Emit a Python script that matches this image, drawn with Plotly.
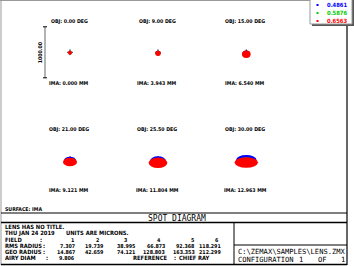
import plotly.graph_objects as go

W, H = 354, 266

# ---------------- data ----------------
obj_angles = [0.00, 9.00, 15.00, 21.00, 25.50, 30.00]          # deg
ima_heights = [0.000, 3.943, 6.540, 9.121, 11.804, 12.963]     # mm
field_numbers = [1, 2, 3, 4, 5, 6]
rms_radius = [7.307, 19.739, 38.995, 66.873, 92.368, 118.291]  # microns
geo_radius = [14.867, 42.659, 74.121, 128.803, 163.353, 212.299]
airy_diam = 9.806
scale_bar_um = 1000.0
wavelengths = [0.4861, 0.5876, 0.6563]
wave_colors = ["#0000ff", "#00cc00", "#ff0000"]

# visible spot footprint per wavelength (microns, relative to chief ray)
spot_semi_x = {
    0.4861: [30, 45, 70, 118, 157, 200],
    0.5876: [33, 48, 76, 125, 165, 205],
    0.6563: [39, 55, 85, 137, 183, 229],
}
spot_semi_y = {
    0.4861: [30, 40, 60, 78, 98, 98],
    0.5876: [33, 45, 62, 75, 92, 90],
    0.6563: [39, 52, 72, 85, 102, 102],
}
spot_center_dy = {
    0.4861: [-5, -10, -25, -33, -45, -20],
    0.5876: [-10, -18, -36, -55, -70, -62],
    0.6563: [-10, -20, -39, -59, -75, -69],
}
chief_ray_x = [0, 0, 0, 0, 0, 0]
chief_ray_y = [0, 0, 0, 0, 0, 0]

# ---------------- layout helpers ----------------
def px(x):
    return x / W

def py(y):
    return 1 - y / H

UM_PER_PX = 1000.0 / 51.0
col_x = [70, 158, 246.3]
row_y = [52.3, 159.0]
obj_label_y = [22, 129]
ima_label_y = [83, 190]
HALF = 30

FAM = "DejaVu Sans Condensed, DejaVu Sans, Liberation Sans, sans-serif"
SMALL = dict(family=FAM, size=5.8, color="black", weight="bold")
NUM = dict(family=FAM, size=5.3, color="black", weight="bold")
LABEL = dict(family=FAM, size=5.2, color="black", weight="bold")
BIG = dict(family="DejaVu Sans Mono, Liberation Mono, monospace", size=8, color="black")
PATHF = dict(family="DejaVu Sans Mono, Liberation Mono, monospace", size=7.1, color="black")

fig = go.Figure()
shapes = []
annotations = []

half_um = HALF * UM_PER_PX
for i in range(6):
    c, r = i % 3, i // 3
    cx, cy = col_x[c], row_y[r]
    n = "" if i == 0 else str(i + 1)
    fig.layout["xaxis" + n] = dict(domain=[px(cx - HALF), px(cx + HALF)], range=[-half_um, half_um],
                                   visible=False, fixedrange=True, anchor="y" + n)
    fig.layout["yaxis" + n] = dict(domain=[py(cy + HALF), py(cy - HALF)], range=[-half_um, half_um],
                                   visible=False, fixedrange=True, anchor="x" + n)
    for w in wavelengths:
        col = wave_colors[wavelengths.index(w)]
        sx, sy, dy = spot_semi_x[w][i], spot_semi_y[w][i], spot_center_dy[w][i]
        shapes.append(dict(type="circle", xref="x" + n, yref="y" + n,
                           x0=-sx, x1=sx, y0=dy - sy, y1=dy + sy,
                           fillcolor=col, line=dict(width=0), layer="above"))
    fig.add_trace(go.Scatter(x=[chief_ray_x[i]], y=[chief_ray_y[i]], mode="markers",
                             xaxis="x" + n, yaxis="y" + n, showlegend=False, hoverinfo="skip",
                             marker=dict(symbol="cross-thin", size=4, line=dict(width=1, color="black"))))
    annotations.append(dict(text=f"OBJ: {obj_angles[i]:.2f} DEG", x=px(cx - 1), y=py(obj_label_y[r]),
                            xref="paper", yref="paper", showarrow=False, xanchor="center", yanchor="middle", font=LABEL))
    annotations.append(dict(text=f"IMA: {ima_heights[i]:.3f} MM", x=px(cx - 1), y=py(ima_label_y[r]),
                            xref="paper", yref="paper", showarrow=False, xanchor="center", yanchor="middle", font=LABEL))

# scale bar in field-1 axes
bar_x = -25 * UM_PER_PX
cap = 2 * UM_PER_PX
shapes.append(dict(type="line", xref="x", yref="y", x0=bar_x, x1=bar_x, y0=-scale_bar_um / 2, y1=scale_bar_um / 2,
                   line=dict(color="#666666", width=1)))
for yy in (-scale_bar_um / 2, scale_bar_um / 2):
    shapes.append(dict(type="line", xref="x", yref="y", x0=bar_x - cap, x1=bar_x + cap, y0=yy, y1=yy,
                       line=dict(color="black", width=1)))
annotations.append(dict(text=f"{scale_bar_um:.2f}", x=bar_x - 5 * UM_PER_PX, y=0, xref="x", yref="y",
                        showarrow=False, textangle=-90, xanchor="center", yanchor="middle", font=LABEL))

# ---------------- frame lines ----------------
def hline(y, x0, x1, color="black", width=1):
    shapes.append(dict(type="line", xref="paper", yref="paper", x0=px(x0), x1=px(x1), y0=py(y), y1=py(y),
                       line=dict(color=color, width=width)))

def vline(x, y0, y1, color="black", width=1):
    shapes.append(dict(type="line", xref="paper", yref="paper", x0=px(x), x1=px(x), y0=py(y0), y1=py(y1),
                       line=dict(color=color, width=width)))

hline(0.5, 0, 347, "#999999")
vline(1, 0, 265, "#999999")
vline(347, 0, 265, "black", 1.2)
hline(264.5, 1, 347, "black", 1.5)
hline(213, 1, 347)
hline(222.5, 1, 347, "black", 1.5)
vline(234, 222, 265)
hline(245, 234, 347)

# ---------------- text block ----------------
def txt(s, x, y, anchor="left", font=SMALL):
    annotations.append(dict(text=s, x=px(x), y=py(y), xref="paper", yref="paper", showarrow=False,
                            xanchor=anchor, yanchor="middle", font=font))

txt("SURFACE: IMA", 3, 208.5, "left", LABEL)
txt("SPOT DIAGRAM", 177, 218, "center", BIG)
txt("LENS HAS NO TITLE.", 3, 227)
txt("THU JAN 24 2019", 3, 233)
txt("UNITS ARE MICRONS.", 64, 233)
txt("FIELD", 3, 240)
txt(":", 38, 240)
txt("RMS RADIUS", 3, 246)
txt(":", 41, 246)
txt("GEO RADIUS", 3, 252)
txt(":", 41, 252)
txt("AIRY DIAM", 3, 258)
txt(":", 44, 258)
val_right = [77, 106, 137, 167, 196.5, 223]
fld_right = [76, 101, 129, 163, 196, 221]
for i in range(6):
    txt(str(field_numbers[i]), fld_right[i], 239.5, "right", NUM)
    txt(f"{rms_radius[i]:.3f}", val_right[i], 246, "right", NUM)
    txt(f"{geo_radius[i]:.3f}", val_right[i], 252, "right", NUM)
txt(f"{airy_diam:.3f}", 77, 258, "right", NUM)
txt("REFERENCE", 169, 258, "right")
txt(":", 172, 258)
txt("CHIEF RAY", 177, 258)

txt("C:\\ZEMAX\\SAMPLES\\LENS.ZMX", 236, 251, "left", PATHF)
txt("CONFIGURATION", 236, 259.5, "left", PATHF)
txt("1", 301, 259.5, "center", PATHF)
txt("OF", 322, 259.5, "center", PATHF)
txt("1", 343, 259.5, "center", PATHF)

# ---------------- legend box ----------------
shapes.append(dict(type="rect", xref="paper", yref="paper", x0=px(312), x1=px(354), y0=py(26), y1=py(-2),
                   fillcolor="#555555", line=dict(width=0)))
shapes.append(dict(type="rect", xref="paper", yref="paper", x0=px(310), x1=px(352), y0=py(24), y1=py(-2),
                   fillcolor="white", line=dict(color="#999999", width=1)))
leg_y = [5, 13, 21]
for k, w in enumerate(wavelengths):
    shapes.append(dict(type="rect", xref="paper", yref="paper", x0=px(316.5), x1=px(318.5),
                       y0=py(leg_y[k] + 1), y1=py(leg_y[k] - 1), fillcolor=wave_colors[k], line=dict(width=0)))
    f = dict(SMALL)
    f["color"] = wave_colors[k]
    txt(f"{w:.4f}", 325, leg_y[k], "left", f)

fig.update_layout(width=W, height=H, margin=dict(l=0, r=0, t=0, b=0),
                  paper_bgcolor="white", plot_bgcolor="white",
                  shapes=shapes, annotations=annotations, showlegend=False)
fig.write_html("out.html", config={"displayModeBar": False})
